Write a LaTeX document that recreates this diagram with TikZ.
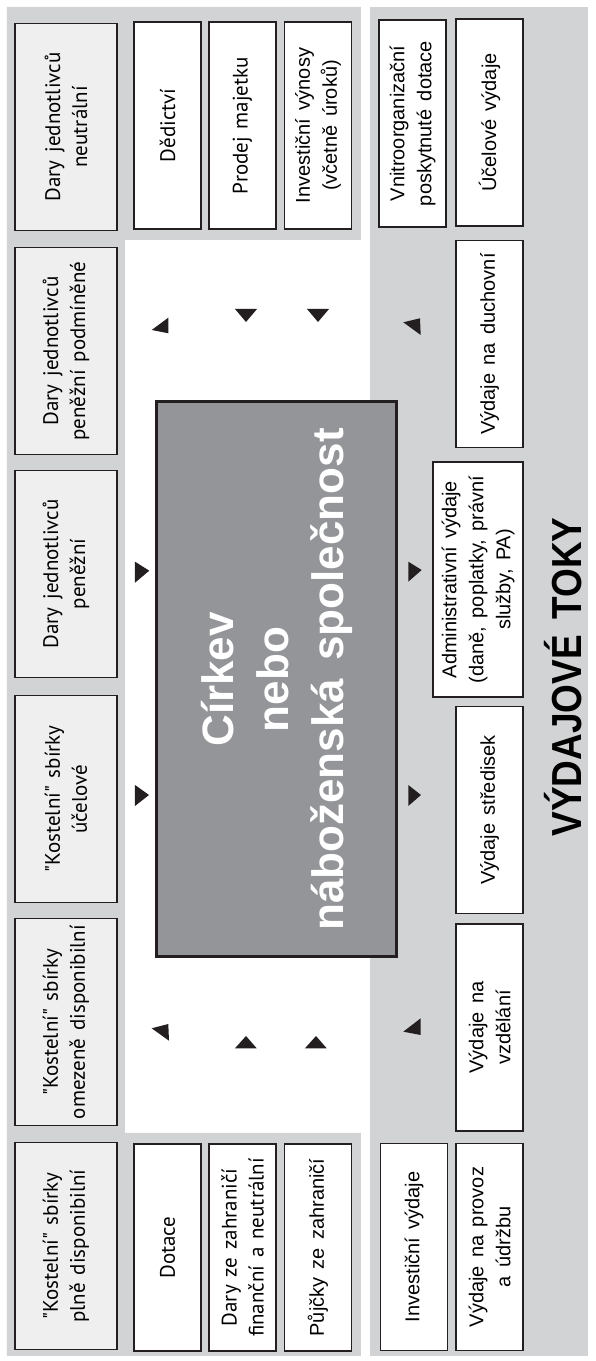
\documentclass[tikz,border=0pt]{standalone}
\usepackage{fontspec}
\setmainfont[WordSpace=1.5]{Liberation Sans}
\newfontfamily\myr[WordSpace=1.4]{PT Sans}

\definecolor{panel}{HTML}{D1D3D4}
\definecolor{srcfill}{HTML}{EFEFF0}
\definecolor{core}{HTML}{939598}
\definecolor{ink}{HTML}{231F20}

\tikzset{
  srcbox/.style={draw=ink, line width=1.5pt, fill=srcfill, minimum width=207pt,
    minimum height=102pt, inner sep=0pt, align=center,
    font=\myr\fontsize{21}{27}\selectfont},
  flowbox/.style={draw=ink, line width=1.5pt, fill=white, minimum width=207pt,
    minimum height=67pt, inner sep=0pt, align=center,
    font=\fontsize{20}{27}\selectfont},
  myrtext/.style={font=\myr\fontsize{21}{27}\selectfont},
  corebox/.style={draw=ink, line width=3pt, fill=core, minimum width=555pt,
    minimum height=240pt, align=center, text=white,
    font=\bfseries\fontsize{44}{55}\selectfont},
  tip/.style={fill=ink},
}

\begin{document}
\begin{tikzpicture}[x=1pt, y=1pt, rotate=90, transform shape]
    % plocha
    \fill[white] (0,0) rectangle (1361,595);
    \useasboundingbox (0,0) rectangle (1361,595);

    % šedé pozadí: příjmy nahoře, výdaje dole
    \fill[panel] (5,588) -- (1354,588) -- (1354,234) -- (1121,234) -- (1121,470)
        -- (228,470) -- (228,234) -- (5,234) -- cycle;
    \fill[panel] (5,7) rectangle (1354,225);

    % horní řada příjmů
    \node[srcbox] (kpd) at (115,529) {"Kostelní" sbírky\\plně disponibilní};
    \node[srcbox] (kod) at (339,529) {"Kostelní" sbírky\\omezeně disponibilní};
    \node[srcbox] (kuc) at (562,529) {"Kostelní" sbírky\\účelové};
    \node[srcbox] (djp) at (787,529) {Dary jednotlivců\\peněžní};
    \node[srcbox] (djpp) at (1010,529) {Dary jednotlivců\\peněžní podmíněné};
    \node[srcbox] (djn) at (1234,529) {Dary jednotlivců\\neutrální};

    % další příjmy vlevo
    \node[flowbox, myrtext] (dotace) at (113.5,427.5) {Dotace};
    \node[flowbox, myrtext] (dzz) at (113.5,352.5) {Dary ze zahraničí\\finanční a neutrální};
    \node[flowbox] (pujcky) at (113.5,277) {Půjčky ze zahraničí};

    % další příjmy vpravo
    \node[flowbox, myrtext] (dedictvi) at (1235.5,427.5) {Dědictví};
    \node[flowbox, myrtext] (prodej) at (1235.5,352.5) {Prodej majetku};
    \node[flowbox] (vynosy) at (1235.5,277) {Investiční výnosy\\(včetně úroků)};

    % církev
    \node[corebox] (cirkev) at (681.5,318) {Církev\\nebo\\náboženská společnost};

    % výdaje
    \node[flowbox] (invvyd) at (114,181) {Investiční výdaje};
    \node[flowbox] (provoz) at (114,105.5) {Výdaje na provoz\\a údržbu};
    \node[flowbox] (vzdel) at (333.5,105.5) {Výdaje na\\vzdělání};
    \node[flowbox] (stred) at (551,105.5) {Výdaje středisek};
    \node[flowbox, minimum width=235pt, minimum height=90pt] (admin) at (781.5,117)
        {Administrativní výdaje\\(daně, poplatky, právní\\služby, PA)};
    \node[flowbox] (duch) at (1017,105.5) {Výdaje na duchovní};
    \node[flowbox] (vnitro) at (1237.5,182.5) {Vnitroorganizační\\poskytnuté dotace};
    \node[flowbox] (ucel) at (1238.5,105.5) {Účelové výdaje};

    % šipky toků
    \fill[tip] (1031,443.3) -- (1043.3,426.7) -- (1027.7,426.7) -- cycle;
    \fill[tip] (1052,360) -- (1052,338) -- (1039,349) -- cycle;
    \fill[tip] (1052,288) -- (1052,266) -- (1039,277) -- cycle;
    \fill[tip] (1038.7,191.7) -- (1042.7,175) -- (1026,174.3) -- cycle;
    \fill[tip] (332.7,443.3) -- (337,426.7) -- (320.3,426) -- cycle;
    \fill[tip] (312.7,360) -- (325,349) -- (312.7,338.3) -- cycle;
    \fill[tip] (312.7,290) -- (325,279) -- (312.7,268.3) -- cycle;
    \fill[tip] (329.3,191.7) -- (342.7,174.3) -- (326,174.3) -- cycle;
    \fill[tip] (799.3,460) -- (790.3,445.7) -- (778.3,460) -- cycle;
    \fill[tip] (576,460) -- (566,446) -- (555,460) -- cycle;
    \fill[tip] (799.3,186.7) -- (791,173.3) -- (779.3,186.7) -- cycle;
    \fill[tip] (576,186.7) -- (566,174) -- (555,186.7) -- cycle;

    % nadpis
    \node[anchor=base, inner sep=0pt, xscale=0.88, font=\bfseries\fontsize{42}{50}\selectfont]
        (toky) at (684,13) {VÝDAJOVÉ TOKY};
\end{tikzpicture}
\end{document}
